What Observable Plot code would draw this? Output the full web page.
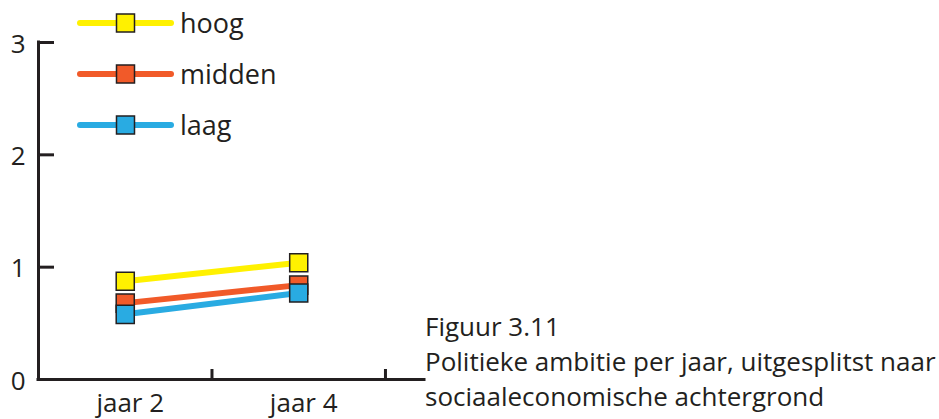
<!DOCTYPE html>
<html>
<head>
<meta charset="utf-8">
<script src="https://cdn.jsdelivr.net/npm/d3@7"></script>
<script src="https://cdn.jsdelivr.net/npm/@observablehq/plot@0.6"></script>
<style>
  html, body { margin: 0; padding: 0; background: #fff; }
  #wrap { position: relative; width: 939px; height: 419px; font-family: "Open Sans", sans-serif; color: #231f20; }
  #legend { position: absolute; left: 0; top: 0; }
  #caption { position: absolute; left: 425px; top: 309px; font-size: 26px; line-height: 35px; white-space: nowrap; }
</style>
</head>
<body>
<div id="wrap">
  <div id="chart"></div>
  <svg id="legend" width="320" height="160"></svg>
  <div id="caption"></div>
</div>
<script>
// ---- data ----
const categories = ["jaar 2", "jaar 4"];
const seriesNames = ["hoog", "midden", "laag"];
const hoog = [0.875, 1.04];
const midden = [0.68, 0.84];
const laag = [0.58, 0.77];
const seriesColors = ["#FFF100", "#F15A29", "#29ABE2"];
const yTicks = [0, 1, 2, 3];
const captionLines = ["Figuur 3.11", "Politieke ambitie per jaar, uitgesplitst naar", "sociaaleconomische achtergrond"];

const ink = "#231f20";
const seriesValues = [hoog, midden, laag];
const rows = [];
seriesNames.forEach((s, si) => {
  categories.forEach((c, ci) => rows.push({serie: s, pos: ci + 1, value: seriesValues[si][ci]}));
});
const catPos = categories.map((c, i) => i + 1);
const boundaries = categories.map((c, i) => i + 1.5);

const marks = [
  Plot.ruleY([0], {stroke: ink, strokeWidth: 3, strokeLinecap: "square"}),
  Plot.ruleX([0.5], {stroke: ink, strokeWidth: 3, strokeLinecap: "square"}),
  Plot.axisY({ticks: yTicks.filter(t => t > 0), tickSize: 16, dx: 16, tickFormat: () => "", label: null, stroke: ink, strokeWidth: 3}),
  Plot.axisY({ticks: yTicks, tickSize: 0, tickPadding: 13, tickFormat: d3.format("d"), label: null, fontSize: 26, fill: ink, dy: 2}),
  Plot.axisX({ticks: boundaries, tickSize: -10, tickFormat: () => "", label: null, stroke: ink, strokeWidth: 3}),
  Plot.axisX({ticks: catPos, tickSize: 0, tickPadding: 14, tickFormat: d => categories[d - 1], label: null, fontSize: 26, fill: ink, dx: 5})
];
seriesNames.forEach((s, si) => {
  const d = rows.filter(r => r.serie === s);
  marks.push(Plot.line(d, {x: "pos", y: "value", stroke: seriesColors[si], strokeWidth: 6}));
  marks.push(Plot.dot(d, {x: "pos", y: "value", symbol: "square", r: 10.2, fill: seriesColors[si], stroke: ink, strokeWidth: 1.5}));
});

const chart = Plot.plot({
  width: 939,
  height: 419,
  marginLeft: 38,
  marginRight: 515,
  marginTop: 42,
  marginBottom: 40,
  style: {fontFamily: "'Open Sans', sans-serif", background: "#fff", overflow: "visible"},
  x: {type: "linear", domain: [0.5, 2.725]},
  y: {domain: [0, 3]},
  marks
});
document.getElementById("chart").appendChild(chart);

// ---- legend ----
const lg = d3.select("#legend");
seriesNames.forEach((s, i) => {
  const g = lg.append("g").attr("transform", `translate(0, ${23 + 51 * i})`);
  g.append("line").attr("x1", 80).attr("x2", 171).attr("y1", 0).attr("y2", 0)
    .attr("stroke", seriesColors[i]).attr("stroke-width", 6).attr("stroke-linecap", "round");
  g.append("rect").attr("x", 116.5).attr("y", -9).attr("width", 18).attr("height", 18)
    .attr("fill", seriesColors[i]).attr("stroke", ink).attr("stroke-width", 1.5);
  g.append("text").attr("x", 180).attr("y", 10).text(s)
    .attr("font-family", "'Open Sans', sans-serif").attr("font-size", 27).attr("fill", ink);
});

// ---- caption ----
const cap = d3.select("#caption");
captionLines.forEach(l => cap.append("div").text(l));
</script>
</body>
</html>
